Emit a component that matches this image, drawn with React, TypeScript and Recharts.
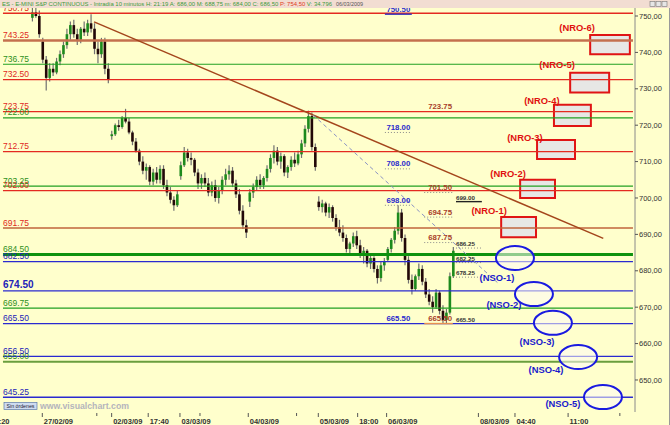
import React from 'react';
import {
  ComposedChart, Bar, XAxis, YAxis,
  ReferenceLine, ReferenceArea, ReferenceDot,
} from 'recharts';

const FONT = '"Liberation Sans", Arial, sans-serif';

// 10 minute candles as [open, high, low, close], one list per session
const session26Feb = [
  [749.5, 752.5, 748.5, 751], [751, 753, 749.5, 750], [750, 751.5, 744, 745],
];
const session27Feb = [
  [743, 744, 737, 738], [738, 739, 729.5, 733], [733, 737, 732, 735.5], [735.5, 737, 733.5, 734.5],
  [734.5, 738.5, 734, 737.5], [737.5, 740.5, 736.5, 739.5], [739.5, 743, 738.5, 742], [742, 746.5, 741, 745],
  [745, 748.5, 743.5, 747.5], [747.5, 749, 744, 745], [745, 746.5, 742, 743.5], [743.5, 747, 742.5, 746.5],
  [746.5, 748.5, 744.5, 745.5], [745.5, 749, 744.5, 748], [748, 750.5, 745.5, 746.5], [746.5, 748, 739.5, 741],
  [741, 743, 737, 739.5], [739.5, 744, 738.5, 743], [743, 744, 734, 735.5], [735.5, 737, 731.5, 732.5],
];
const session02Mar = [
  [717, 718.5, 716, 717.5], [717.5, 720.5, 717, 720], [720, 721.5, 718.5, 719.5], [719.5, 722.5, 719, 722],
  [722, 724.5, 720.5, 721], [721, 722, 717.5, 718], [718, 718.5, 714.5, 715.5], [715.5, 716.5, 712.5, 713],
  [713, 713.5, 709, 710], [710, 711.5, 706.5, 707.5], [707.5, 709.5, 705, 708.5], [708.5, 709, 703.5, 704.5],
  [704.5, 708, 703.5, 707], [707, 708.5, 704, 705], [705, 709, 704, 708], [708, 709, 702.5, 703.5],
  [703.5, 705, 700.5, 701.5], [701.5, 703, 698.5, 699.5], [699.5, 700.5, 696.5, 698], [698, 702, 697.5, 701],
];
const session03Mar = [
  [706, 710, 705, 709], [709, 714, 708.5, 712.5], [712.5, 713.5, 710, 711], [711, 712.5, 709, 710.5],
  [710.5, 711, 706, 707], [707, 708, 702.5, 704], [704, 706.5, 702.5, 705.5], [705.5, 707, 703, 704],
  [704, 705.5, 700.5, 701.5], [701.5, 704.5, 700.5, 703.5], [703.5, 705, 699, 700], [700, 703, 698.5, 702],
  [702, 706, 701, 705], [705, 708, 703.5, 706.5], [706.5, 709, 705, 707.5], [707.5, 708.5, 703, 704],
  [704, 705, 700, 701], [701, 702.5, 695.5, 696.5], [696.5, 698, 691.5, 692.5], [692.5, 694, 689, 690.5],
];
const session04Mar = [
  [699, 702.5, 697.5, 701.5], [701.5, 704, 700, 703], [703, 706, 702, 705], [705, 706.5, 702.5, 703.5],
  [703.5, 706, 702.5, 705.5], [705.5, 709, 704.5, 708], [708, 712, 707, 711], [711, 714.5, 709.5, 713],
  [713, 714, 709, 710], [710, 712.5, 708, 711.5], [711.5, 712, 706, 707], [707, 709, 705.5, 708.5],
  [708.5, 711.5, 707.5, 710.5], [710.5, 712.5, 708.5, 709.5], [709.5, 713, 709, 712], [712, 716, 711, 715],
  [715, 720, 714, 719], [719, 724, 718, 722.5], [722.5, 723.5, 713, 714], [714, 715, 707.5, 708.5],
];
const session05Mar = [
  [699, 700.5, 696.5, 697.5], [697.5, 699.5, 696, 698.5], [698.5, 699, 695, 696], [696, 698.5, 694.5, 697.5],
  [697.5, 698, 693.5, 694.5], [694.5, 695.5, 691, 692], [692, 694, 689.5, 690.5], [690.5, 692.5, 688, 689],
  [689, 690, 685, 686], [686, 688, 684.5, 687.5], [687.5, 690.5, 686.5, 689.5], [689.5, 691, 686, 687],
  [687, 688.5, 683.5, 684.5], [684.5, 686.5, 682, 685.5], [685.5, 686, 681, 682], [682, 684.5, 680.5, 683.5],
  [683.5, 684, 679.5, 680.5], [680.5, 681.5, 676.5, 678], [678, 682.5, 677, 681.5], [681.5, 683.5, 680, 682.5],
];
const session06Mar = [
  [683, 686.5, 682.5, 686], [686, 689, 685, 688.5], [688.5, 692, 687.5, 691], [691, 698, 690, 696],
  [696, 697, 688, 689], [689, 690, 681.5, 683], [683, 684, 676.5, 677.5], [677.5, 679, 673.5, 675],
  [675, 679, 674.5, 678.5], [678.5, 682, 677.5, 680.5], [680.5, 681.5, 676, 677], [677, 678, 672.5, 673.5],
  [673.5, 675, 670.5, 671.5], [671.5, 673, 668.5, 670], [670, 675, 669.5, 674], [674, 674.5, 668, 669],
  [669, 670.5, 665.5, 666.5], [666.5, 669.5, 665.5, 668.5], [668.5, 679.5, 668, 678.5], [678.5, 686.5, 678, 685.5],
];
const sessions = [session26Feb, session27Feb, session02Mar, session03Mar, session04Mar, session05Mar, session06Mar];
const sessionStarts = [-3, 0, 20, 40, 60, 80, 100];

// horizontal levels
const redLevels = [750.75, 743.25, 732.5, 723.75, 712.75, 702, 691.75];
const greenLevels = [736.75, 722, 703.25, 684.5, 669.75, 655];
const blueLevels = [682.5, 674.5, 665.5, 656.5, 645.25];

// projected targets
const blueTargets = [750.5, 718, 708, 698, 665.5];
const brownTargets = [723.75, 701.5, 694.75, 687.75, 665.5];
const smallTargets = [699, 686.25, 682.25, 678.25, 665.5];

// NRO zones
const nroNames = ['(NRO-1)', '(NRO-2)', '(NRO-3)', '(NRO-4)', '(NRO-5)', '(NRO-6)'];
const nroFrom = [132.8, 138.3, 143.2, 148.1, 152.8, 158.6];
const nroTo = [142.9, 148.4, 154.2, 158.8, 164.1, 170.1];
const nroLow = [689.2, 700.0, 710.7, 719.8, 729.0, 739.5];
const nroHigh = [694.8, 705.0, 715.9, 725.6, 734.4, 744.8];
const nroLabelAt = [129.3, 134.8, 139.7, 144.6, 149.0, 154.8];
const nroLabelPrice = [695.6, 705.8, 715.7, 725.8, 735.7, 745.9];

// NSO zones
const nsoNames = ['(NSO-1)', '(NSO-2)', '(NSO-3)', '(NSO-4)', '(NSO-5)'];
const nsoAt = [136.8, 142.3, 147.8, 155.1, 162.3];
const nsoPrice = [683.5, 673.6, 665.7, 656.3, 645.3];
const nsoLabelAt = [131.6, 133.6, 143.2, 145.8, 150.7];
const nsoLabelPrice = [677.2, 669.8, 659.6, 651.9, 642.6];

const trendLine = [[14.8, 748.4], [162.4, 688.9]];
const dashedLine = [[78.3, 722.8], [131.9, 676.6]];

const xTicks = [-15.7, -0.2, 15.6, 19.9, 30.5, 39.7, 45.5, 59.5, 73.5, 79.8, 91.2, 99.6, 126.2, 136.8, 152.2, 167.2];
const xTickLabels = ['17:20', '27/02/09', '', '02/03/09', '17:40', '03/03/09', '', '04/03/09', '', '05/03/09', '18:00', '06/03/09', '08/03/09', '04:40', '11:00', ''];
const yTicks = [650, 660, 670, 680, 690, 700, 710, 720, 730, 740, 750];

const candles = sessions.flatMap((s, k) =>
  s.map(([o, h, l, c], i) => ({ t: sessionStarts[k] + i, range: [l, h], o, c })),
);

const LINE_FROM = -11.6;
const LINE_TO = 171.0;

const COLORS = {
  red: { stroke: '#e42a20', text: '#e0281c' },
  green: { stroke: '#22a022', text: '#2f8f1c' },
  blue: { stroke: '#2a2ad0', text: '#2222b8' },
};
const SPECIAL: Record<string, { stroke?: string; width?: number }> = {
  '743.25': { stroke: '#c4704e', width: 2.5 },
  '691.75': { stroke: '#c0643c', width: 1.6 },
  '684.50': { stroke: '#0e920e', width: 3 },
  '655.00': { stroke: '#6a9e3e', width: 2.2 },
  '645.25': { width: 1.6 },
  '750.75': { width: 1.6 },
};
const blueRule = ['#3030c0', 'dot', 'dot', 'dot', ''];
const brownRule = ['', 'dot', 'dot', 'dot', '#e89050'];
const smallRule = ['#222', 'dot', 'dot', 'dot', ''];

const levels = [
  ...redLevels.map(p => ({ p, kind: 'red' as const })),
  ...greenLevels.map(p => ({ p, kind: 'green' as const })),
  ...blueLevels.map(p => ({ p, kind: 'blue' as const })),
];

function Candle(props: any) {
  const { x, y, width, height, payload } = props;
  if (!payload || x == null || y == null) return null;
  const top = Math.min(y, y + height);
  const h = Math.abs(height);
  const [lo, hi] = payload.range;
  const span = hi - lo || 1;
  const py = (v: number) => top + ((hi - v) / span) * h;
  const cx = x + width / 2;
  const up = payload.c >= payload.o;
  const b1 = py(Math.max(payload.o, payload.c));
  const b2 = py(Math.min(payload.o, payload.c));
  return (
    <g>
      <line x1={cx} x2={cx} y1={top} y2={top + h} stroke="#707070" strokeWidth={1.2} />
      <rect x={cx - 1.3} y={b1} width={2.6} height={Math.max(b2 - b1, 1)} fill={up ? '#1d8a1d' : '#220808'} />
    </g>
  );
}

function XTick(props: any) {
  const { x, y, payload } = props;
  const i = xTicks.indexOf(payload.value);
  const label = i >= 0 ? xTickLabels[i] : '';
  return (
    <g>
      <line x1={x} x2={x} y1={y + 1} y2={y + (label ? 5 : 4)} stroke="#555" />
      {label && (
        <text x={x + 1.5} y={y + 11.5} fontSize={7.5} fontWeight="bold" fill="#333" fontFamily={FONT}>{label}</text>
      )}
    </g>
  );
}

const textShape = (text: string, fill: string, size: number, opts: { weight?: string; anchor?: string; dy?: number } = {}) =>
  (p: any) => (
    <text
      x={p.cx} y={p.cy + (opts.dy ?? 0)} fill={fill} fontSize={size}
      fontWeight={opts.weight ?? 'normal'} textAnchor={opts.anchor ?? 'start'} fontFamily={FONT}
    >{text}</text>
  );

function targetRule(key: string, p: number, from: number, to: number, rule: string) {
  if (!rule) return null;
  const dotted = rule === 'dot';
  return (
    <ReferenceLine
      key={key}
      segment={[{ x: from, y: p }, { x: to, y: p }]}
      stroke={dotted ? '#8a8a8a' : rule}
      strokeWidth={dotted ? 1 : 1.4}
      strokeDasharray={dotted ? '1 2' : undefined}
    />
  );
}

export default function App() {
  return (
    <div style={{ position: 'absolute', left: 0, top: 0, width: 670, height: 425, background: '#ffffcc', overflow: 'hidden' }}>
      <ComposedChart width={670} height={425} data={candles} margin={{ top: 8, right: 0, bottom: 0, left: 0 }}>
        <XAxis
          type="number" dataKey="t" domain={[-12.46, 171.59]} allowDataOverflow
          ticks={xTicks} interval={0} tick={<XTick />} tickLine={false} axisLine={false}
          tickSize={0} tickMargin={0} height={13}
        />
        <YAxis
          orientation="right" width={35} domain={[641.2, 752.2]} allowDataOverflow ticks={yTicks}
          tickFormatter={(v: number) => v.toFixed(2).replace('.', ',')}
          tick={{ fontSize: 7.5, fill: '#333', fontFamily: FONT }}
          tickSize={3} tickMargin={1}
          tickLine={{ stroke: '#555' }} axisLine={{ stroke: '#8a8a8a' }}
        />

        {levels.map(({ p, kind }) => {
          const key = p.toFixed(2);
          const sp = SPECIAL[key] || {};
          return (
            <ReferenceLine
              key={'l' + key}
              segment={[{ x: LINE_FROM, y: p }, { x: LINE_TO, y: p }]}
              stroke={sp.stroke || COLORS[kind].stroke}
              strokeWidth={sp.width || 1.2}
            />
          );
        })}

        <ReferenceLine
          segment={[{ x: trendLine[0][0], y: trendLine[0][1] }, { x: trendLine[1][0], y: trendLine[1][1] }]}
          stroke="#a4461c" strokeWidth={1.5}
        />
        <ReferenceLine
          segment={[{ x: dashedLine[0][0], y: dashedLine[0][1] }, { x: dashedLine[1][0], y: dashedLine[1][1] }]}
          stroke="#8a92c4" strokeWidth={1} strokeDasharray="4 3"
        />

        {blueTargets.map((p, i) => targetRule('bt' + i, p, 99.1, 106.9, blueRule[i]))}
        {brownTargets.map((p, i) => targetRule('rt' + i, p, 110.5, 118.8, brownRule[i]))}
        {smallTargets.map((p, i) => targetRule('st' + i, p, 119.7, 127.2, smallRule[i]))}

        <Bar dataKey="range" barSize={3} shape={Candle} isAnimationActive={false} />

        {nroNames.map((n, i) => (
          <ReferenceArea
            key={'nro' + i}
            x1={nroFrom[i]} x2={nroTo[i]} y1={nroLow[i]} y2={nroHigh[i]}
            fill="#e4e4e8" fillOpacity={0.88} stroke="#e01414" strokeWidth={2} ifOverflow="visible"
          />
        ))}
        {nsoNames.map((n, i) => (
          <ReferenceDot
            key={'nso' + i} x={nsoAt[i]} y={nsoPrice[i]} ifOverflow="visible"
            shape={(p: any) => (
              <ellipse cx={p.cx} cy={p.cy} rx={19} ry={12} fill="#fdfaf6" fillOpacity={0.55} stroke="#1a1ae0" strokeWidth={2} />
            )}
          />
        ))}

        {levels.map(({ p, kind }) => {
          const key = p.toFixed(2);
          const big = key === '674.50';
          return (
            <ReferenceDot
              key={'t' + key} x={LINE_FROM} y={p} ifOverflow="visible"
              shape={textShape(key, COLORS[kind].text, big ? 10 : 8.5, { weight: big ? 'bold' : 'normal', dy: -2.5 })}
            />
          );
        })}
        {blueTargets.map((p, i) => (
          <ReferenceDot key={'btl' + i} x={103} y={p} ifOverflow="visible"
            shape={textShape(p.toFixed(2), '#2a2acc', 7.8, { weight: 'bold', anchor: 'middle', dy: -2.5 })} />
        ))}
        {brownTargets.map((p, i) => (
          <ReferenceDot key={'rtl' + i} x={115.1} y={p} ifOverflow="visible"
            shape={textShape(p.toFixed(2), '#a8402a', 7.8, { weight: 'bold', anchor: 'middle', dy: -2.5 })} />
        ))}
        {smallTargets.map((p, i) => (
          <ReferenceDot key={'stl' + i} x={119.7} y={p} ifOverflow="visible"
            shape={textShape(p.toFixed(2), '#333', 6.2, { weight: 'bold', dy: -2 })} />
        ))}
        {nroNames.map((n, i) => (
          <ReferenceDot key={'nrol' + i} x={nroLabelAt[i]} y={nroLabelPrice[i]} ifOverflow="visible"
            shape={textShape(n, '#e01010', 9.4, { weight: 'bold', anchor: 'middle' })} />
        ))}
        {nsoNames.map((n, i) => (
          <ReferenceDot key={'nsol' + i} x={nsoLabelAt[i]} y={nsoLabelPrice[i]} ifOverflow="visible"
            shape={textShape(n, '#1a1acc', 9.4, { weight: 'bold', anchor: 'middle' })} />
        ))}
      </ComposedChart>

      <svg width={670} height={425} style={{ position: 'absolute', left: 0, top: 0, pointerEvents: 'none' }}>
        <rect x={0} y={0} width={670} height={8} fill="#f2ddd2" />
        <text x={2} y={6.3} fontSize={6} fontFamily={FONT} fill="#3a9a3a" textLength={330} lengthAdjust="spacingAndGlyphs">
          ES - E-MINI S&amp;P CONTINUOUS - Intradía 10 minutos  H: 21:19  A: 686,00  M: 688,75  m: 684,00  C: 686,50
          <tspan fill="#e03a1a">  P: 754,50</tspan>
          <tspan>  V: 34.796</tspan>
        </text>
        <text x={336} y={6.3} fontSize={6} fontFamily={FONT} fill="#555" textLength={27} lengthAdjust="spacingAndGlyphs">06/03/2009</text>
        {[650, 656, 662].map(bx => (
          <rect key={bx} x={bx} y={1.5} width={5} height={5} fill="#e6e6e6" stroke="#777" strokeWidth={0.6} />
        ))}
        <line x1={669.5} x2={669.5} y1={8} y2={425} stroke="#9a9a9a" />
        <rect x={4} y={402.5} width={33} height={7} fill="#cfdcf0" stroke="#5a78a8" strokeWidth={0.7} />
        <text x={20.5} y={408} fontSize={5.5} fontFamily={FONT} fill="#223" textAnchor="middle" textLength={28} lengthAdjust="spacingAndGlyphs">Sin órdenes</text>
        <text x={40} y={409} fontSize={9} fontWeight="bold" fontFamily={FONT} fill="#b4b4bc" textLength={89} lengthAdjust="spacingAndGlyphs">www.visualchart.com</text>
      </svg>
    </div>
  );
}
